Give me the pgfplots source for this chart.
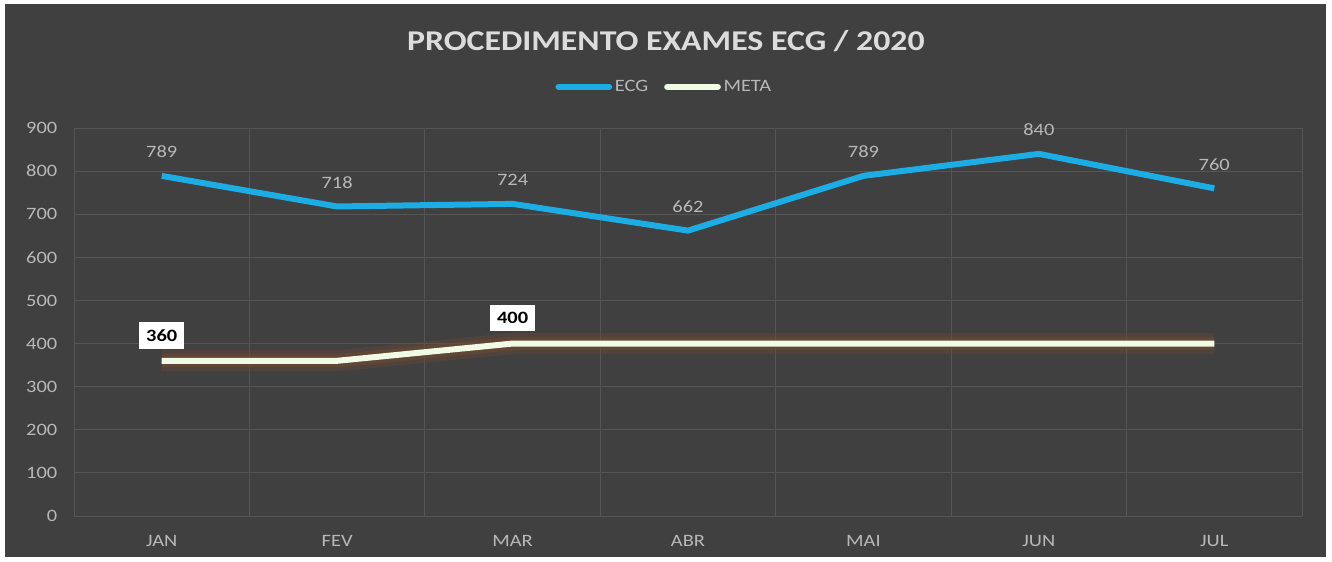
\documentclass[border=0pt]{standalone}
\usepackage{pgfplots}
\pgfplotsset{compat=1.18}
\usepackage{fontspec}
\setmainfont[FakeStretch=1.18]{Carlito}
\definecolor{bg}{HTML}{404040}
\definecolor{gridc}{HTML}{555555}
\definecolor{lab}{HTML}{B8B8B8}
\definecolor{titlec}{HTML}{DCDCDC}
\definecolor{ecg}{HTML}{1CADE4}
\definecolor{meta}{HTML}{F0FAE4}
\definecolor{glow}{HTML}{6E4A32}
\begin{document}
\begin{tikzpicture}[x=1pt,y=1pt]
\fill[white] (0,0) rectangle (999,420.75);
\fill[bg] (3.75,3) rectangle (994.5,417.75);
\begin{axis}[
  at={(55.5pt,33.75pt)}, anchor=south west,
  scale only axis, width=921pt, height=291pt,
  xmin=-0.5, xmax=6.5, ymin=0, ymax=900,
  xtick={0,...,6}, xticklabels={JAN,FEV,MAR,ABR,MAI,JUN,JUL},
  minor xtick={-0.5,0.5,...,6.5},
  ytick={0,100,...,900},
  ymajorgrids, xminorgrids,
  major grid style={draw=gridc, line width=0.7pt},
  minor grid style={draw=gridc, line width=0.7pt},
  axis line style={draw=none},
  major tick style={draw=none}, minor tick style={draw=none},
  /pgf/number format/assume math mode=true,
  ticklabel style={font=\fontsize{13}{15}\selectfont, text=lab},
  yticklabel style={xshift=-9pt},
  xticklabel style={yshift=-11pt},
  title={PROCEDIMENTO EXAMES ECG / 2020},
  title style={at={(0.482,1.204)}, anchor=center, font=\fontsize{21.5}{25}\selectfont\bfseries, text=titlec},
  legend style={at={(0.481,1.106)}, anchor=center, draw=none, fill=none, text=lab,
    font=\fontsize{13}{15}\selectfont, inner sep=0pt,
    /tikz/every even column/.append style={column sep=10pt}},
  legend columns=2,
  legend image code/.code={\draw[#1, line cap=round] (0pt,0pt) -- (38pt,0pt);},
]
\addplot[ecg, line width=4.5pt, line join=round,
  nodes near coords,
  every node near coord/.append style={text=lab, font=\fontsize{13}{15}\selectfont, anchor=center, yshift=18pt}]
  coordinates {(0,789) (1,718) (2,724) (3,662) (4,789) (5,840) (6,760)};
\addlegendentry{ECG}
\addplot[glow, opacity=0.35, line width=16pt, line join=round, forget plot]
  coordinates {(0,360) (1,360) (2,400) (3,400) (4,400) (5,400) (6,400)};
\addplot[glow, opacity=0.5, line width=10pt, line join=round, forget plot]
  coordinates {(0,360) (1,360) (2,400) (3,400) (4,400) (5,400) (6,400)};
\addplot[meta, line width=4.5pt, line join=round]
  coordinates {(0,360) (1,360) (2,400) (3,400) (4,400) (5,400) (6,400)};
\addlegendentry{META}
\addplot[draw=none, forget plot, nodes near coords,
  every node near coord/.append style={fill=white, text=black, font=\fontsize{13}{15}\selectfont\bfseries, anchor=center, yshift=19pt, inner xsep=5pt, inner ysep=5.5pt}]
  coordinates {(0,360) (2,400)};
\end{axis}
\end{tikzpicture}
\end{document}
